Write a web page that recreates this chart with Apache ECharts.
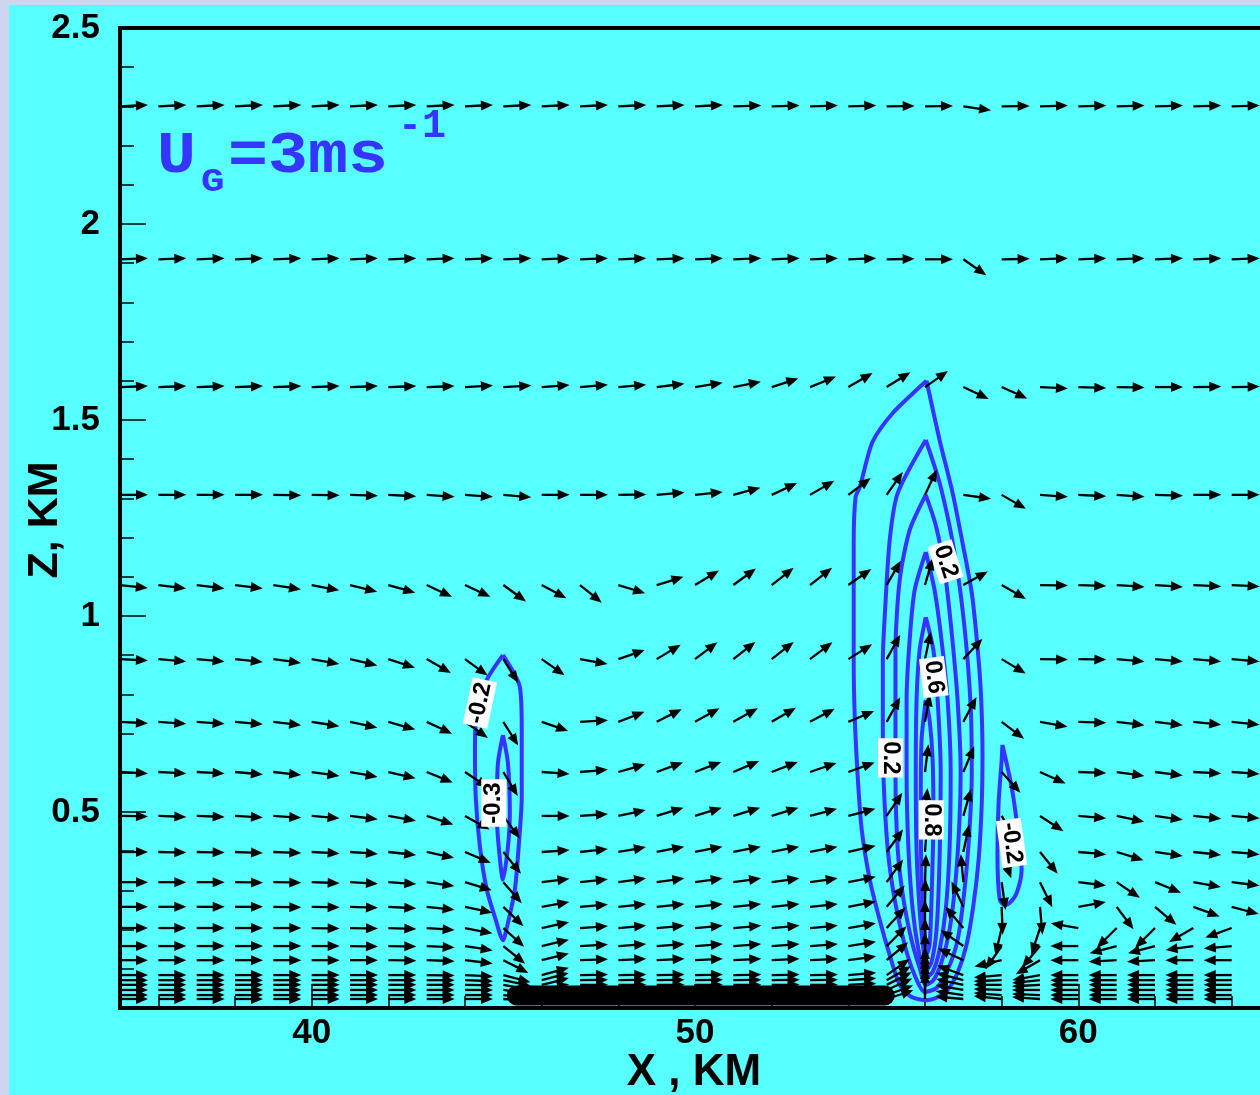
<!DOCTYPE html>
<html>
<head>
<meta charset="utf-8">
<title>Vertical velocity and wind vectors</title>
<script src="https://cdn.jsdelivr.net/npm/echarts@6/dist/echarts.min.js"></script>
<style>
  html, body { margin: 0; padding: 0; background: #cdd6ee; overflow: hidden; }
  #chart { width: 1300px; height: 1095px; }
</style>
</head>
<body>
<div id="chart"></div>
<script>
// ---- vector grid: tail positions (km) ----
const xCols = [35, 36, 37, 38, 39, 40, 41, 42, 43, 44, 45, 46, 47, 48, 49,
               50, 51, 52, 53, 54, 55, 56, 57, 58, 59, 60, 61, 62, 63, 64];
const zRows = [2.300, 1.910, 1.584, 1.309, 1.079, 0.890, 0.730, 0.602, 0.490, 0.398, 0.321,
               0.258, 0.204, 0.158, 0.122, 0.084, 0.071, 0.059, 0.046, 0.033, 0.023];

// ---- wind direction (degrees, counter-clockwise from +x) for each level, west to east ----
const dirZ2300 = [3,3,3,3,3,3,3,3,3,3,3,3,3,3,3,3,2,2,2,2,1,1,-8,1,2,2,2,2,2,2];
const dirZ1910 = [2,2,2,2,2,2,2,2,2,2,2,2,2,2,2,2,2,2,2,2,1,0,-35,1,2,2,2,2,2,2];
const dirZ1584 = [2,2,2,2,2,2,2,2,2,3,3,4,5,5,7,9,11,18,22,30,32,35,-25,-24,-3,-2,-1,0,1,1];
const dirZ1309 = [0,0,0,0,-1,-1,-2,-3,-4,-4,-5,0,0,1,5,6,15,25,30,37,55,65,-8,-30,-4,-3,-4,-2,0,0];
const dirZ1079 = [-6,-7,-7,-7,-9,-11,-14,-16,-25,-25,-36,-28,-39,-17,17,31,36,38,38,35,60,74,29,-30,-1,-2,-4,-4,-3,-3];
const dirZ0890 = [-3,-5,-5,-6,-8,-10,-13,-18,-30,-36,-58,-35,-10,19,31,37,38,38,37,32,61,78,47,-31,-1,-1,-5,-5,-5,-5];
const dirZ0730 = [-3,-4,-4,-5,-7,-9,-12,-16,-25,-35,-58,-19,3,21,27,29,29,30,28,23,61,80,62,-37,-10,-2,-7,-7,-6,-6];
const dirZ0602 = [-3,-3,-3,-5,-6,-8,-10,-13,-22,-34,-59,-4,5,16,20,21,23,21,19,20,60,83,67,-48,-24,-2,-8,-7,-3,-4];
const dirZ0490 = [-1,-2,-2,-3,-4,-5,-7,-10,-18,-29,-54,0,4,12,17,17,17,17,15,15,56,85,74,-60,-33,-5,-12,-8,-6,-5];
const dirZ0398 = [0,-1,-1,-2,-2,-3,-4,-6,-12,-23,-51,4,6,10,11,11,11,11,11,13,54,86,78,-70,-51,-5,-17,-8,-6,-5];
const dirZ0321 = [0,0,0,-1,-1,-2,-3,-4,-8,-17,-49,7,6,8,8,8,8,8,8,11,54,88,95,-82,-64,-7,-34,-22,-10,-7];
const dirZ0258 = [0,0,0,0,-1,-1,-2,-3,-6,-12,-44,10,5,6,6,6,6,6,6,11,50,89,115,-88,-85,10,-53,-40,-20,-15];
const dirZ0204 = [0,0,0,0,0,-1,-1,-2,-4,-11,-42,12,4,5,5,5,5,5,5,10,48,90,130,-103,-108,170,225,225,210,200];
const dirZ0158 = [0,0,0,0,0,0,-1,-1,-3,-9,-39,13,3,4,4,4,4,4,4,9,45,90,145,235,230,180,195,195,188,185];
const dirZ0122 = [0,0,0,0,0,0,0,-1,-2,-7,-27,14,2,3,3,3,3,3,3,8,40,90,155,193,210,180,183,183,180,180];
const dirZ0084 = [0,0,0,0,0,0,0,0,-1,-3,-15,15,1,1,1,1,1,1,1,5,35,90,160,185,190,180,180,180,180,180];
const dirZ0071 = [0,0,0,0,0,0,0,0,0,-2,-12,15,1,1,1,1,1,1,1,4,30,90,165,182,186,180,180,180,180,180];
const dirZ0059 = [0,0,0,0,0,0,0,0,0,-1,-10,14,0,0,0,0,0,0,0,3,27,90,168,180,183,180,180,180,180,180];
const dirZ0046 = [0,0,0,0,0,0,0,0,0,0,-8,12,0,0,0,0,0,0,0,2,24,90,170,178,180,180,180,180,180,180];
const dirZ0033 = [0,0,0,0,0,0,0,0,0,0,-6,10,0,0,0,0,0,0,0,1,20,90,172,176,178,180,180,180,180,180];
const dirZ0023 = [0,0,0,0,0,0,0,0,0,0,-4,8,0,0,0,0,0,0,0,0,18,90,175,174,176,180,180,180,180,180];

// ---- vertical velocity contours (x km, z km), closed loops ----
const wUpdraft1 = [[56.04,1.600],[55.86,1.584],[55.16,1.518],[54.63,1.444],[54.30,1.329],[54.19,1.304],[54.14,1.186],[54.14,0.888],[54.17,0.735],[54.25,0.582],[54.35,0.454],[54.56,0.327],[54.82,0.224],[55.08,0.135],[55.34,0.059],[55.65,0.028],[56.04,0.020],[56.30,0.026],[56.58,0.045],[56.85,0.090],[57.08,0.160],[57.26,0.260],[57.40,0.380],[57.48,0.520],[57.50,0.650],[57.46,0.800],[57.37,0.920],[57.22,1.059],[56.98,1.186],[56.72,1.314],[56.38,1.449],[56.04,1.600]];
const wUpdraft2 = [[56.02,1.449],[55.29,1.314],[55.08,1.194],[54.95,1.000],[54.90,0.888],[54.90,0.735],[54.92,0.582],[55.03,0.403],[55.21,0.276],[55.47,0.161],[55.73,0.084],[55.99,0.041],[56.30,0.051],[56.59,0.097],[56.85,0.173],[57.03,0.301],[57.16,0.454],[57.22,0.600],[57.20,0.750],[57.10,0.900],[56.95,1.041],[56.80,1.143],[56.64,1.230],[56.38,1.340],[56.02,1.449]];
const wUpdraft3 = [[56.02,1.309],[55.60,1.219],[55.34,1.092],[55.23,0.913],[55.23,0.600],[55.29,0.403],[55.44,0.276],[55.65,0.173],[55.86,0.102],[56.02,0.059],[56.22,0.071],[56.43,0.117],[56.64,0.199],[56.80,0.327],[56.90,0.480],[56.93,0.600],[56.85,0.786],[56.69,0.964],[56.51,1.117],[56.28,1.232],[56.02,1.309]];
const wUpdraft4 = [[56.02,1.163],[55.73,1.066],[55.60,0.939],[55.52,0.786],[55.52,0.600],[55.57,0.403],[55.68,0.250],[55.83,0.148],[56.02,0.077],[56.20,0.092],[56.38,0.148],[56.54,0.250],[56.64,0.403],[56.67,0.600],[56.59,0.786],[56.43,0.939],[56.25,1.066],[56.02,1.163]];
const wUpdraft5 = [[56.02,0.997],[55.86,0.913],[55.78,0.786],[55.76,0.600],[55.78,0.403],[55.86,0.250],[55.96,0.148],[56.04,0.097],[56.17,0.117],[56.30,0.199],[56.38,0.378],[56.41,0.600],[56.33,0.786],[56.22,0.913],[56.02,0.997]];
const wUpdraft6 = [[56.02,0.786],[55.91,0.684],[55.89,0.531],[55.91,0.327],[55.99,0.199],[56.04,0.135],[56.12,0.161],[56.17,0.276],[56.22,0.480],[56.20,0.633],[56.12,0.735],[56.02,0.786]];
const wDownWest1 = [[44.99,0.900],[44.57,0.837],[44.31,0.753],[44.26,0.666],[44.28,0.538],[44.39,0.411],[44.57,0.301],[44.78,0.232],[44.99,0.173],[45.12,0.217],[45.30,0.301],[45.40,0.411],[45.48,0.538],[45.48,0.709],[45.43,0.819],[44.99,0.900]];
const wDownWest2 = [[44.99,0.696],[44.86,0.625],[44.83,0.497],[44.88,0.411],[44.99,0.327],[45.12,0.411],[45.17,0.497],[45.12,0.625],[44.99,0.696]];
const wDownEast1 = [[58.02,0.671],[58.26,0.564],[58.42,0.454],[58.52,0.352],[58.39,0.293],[58.21,0.268],[58.08,0.263],[57.95,0.276],[57.89,0.395],[57.92,0.523],[58.00,0.633],[58.02,0.671]];

// contour labels: value text, anchor on the line (km), and line direction (deg)
const contourLabelText = ['-0.2', '-0.3', '0.2', '0.2', '0.6', '0.8', '-0.2'];
const contourLabelAt = [[44.39,0.778],[44.75,0.523],[56.54,1.138],[55.10,0.638],[56.23,0.844],[56.17,0.480],[58.26,0.421]];
const contourLabelTilt = [78, 90, -72, -90, -83, -90, -82];

// heated land strip on the surface
const landStrip = [[45.35, 0.032], [54.95, 0.032]];

// ---- build series data ----
const dirRows = [dirZ2300, dirZ1910, dirZ1584, dirZ1309, dirZ1079, dirZ0890, dirZ0730, dirZ0602,
                 dirZ0490, dirZ0398, dirZ0321, dirZ0258, dirZ0204, dirZ0158, dirZ0122, dirZ0084,
                 dirZ0071, dirZ0059, dirZ0046, dirZ0033, dirZ0023];
const vectors = [];
zRows.forEach((z, r) => xCols.forEach((x, c) => vectors.push([x, z, dirRows[r][c]])));

const contours = [wUpdraft1, wUpdraft2, wUpdraft3, wUpdraft4, wUpdraft5, wUpdraft6,
                  wDownWest1, wDownWest2, wDownEast1];

// uniform-length vectors, anchored at the tail
const ARROW_LEN = 28, HEAD_LEN = 12, HEAD_HALF = 5;
function arrowItem(params, api) {
  const p = api.coord([api.value(0), api.value(1)]);
  const a = api.value(2) * Math.PI / 180;
  const ux = Math.cos(a), uy = -Math.sin(a);
  const tip = [p[0] + ux * ARROW_LEN, p[1] + uy * ARROW_LEN];
  const bx = tip[0] - ux * HEAD_LEN, by = tip[1] - uy * HEAD_LEN;
  const nx = -uy * HEAD_HALF, ny = ux * HEAD_HALF;
  return {
    type: 'group',
    children: [
      { type: 'line', shape: { x1: p[0], y1: p[1], x2: bx + ux, y2: by + uy },
        style: { stroke: '#000', lineWidth: 2.3 } },
      { type: 'polygon', shape: { points: [tip, [bx + nx, by + ny], [bx - nx, by - ny]] },
        style: { fill: '#000' } }
    ]
  };
}

function labelItem(params, api) {
  const i = params.dataIndex;
  const p = api.coord([api.value(0), api.value(1)]);
  return {
    type: 'text', x: p[0], y: p[1],
    rotation: contourLabelTilt[i] * Math.PI / 180,
    style: {
      text: contourLabelText[i], font: 'bold 24px "Liberation Sans"', fill: '#000',
      align: 'center', verticalAlign: 'middle', backgroundColor: '#fff', padding: [1, 3, 0, 3]
    }
  };
}

const BLUE = '#3535ff';
const tickFont = { fontFamily: '"Liberation Sans", Arial', fontWeight: 'bold', fontSize: 35, color: '#000' };

const series = contours.map(c => ({
  type: 'line', data: c, showSymbol: false, smooth: 0.25, z: 2, silent: true,
  lineStyle: { color: BLUE, width: 4 }
}));
series.push({
  type: 'custom', data: vectors, renderItem: arrowItem, encode: { x: 0, y: 1 }, z: 3, silent: true
});
series.push({
  type: 'line', data: landStrip, showSymbol: false, z: 4, silent: true,
  lineStyle: { color: '#000', width: 20, cap: 'round' }
});
series.push({
  type: 'custom', data: contourLabelAt, renderItem: labelItem, encode: { x: 0, y: 1 }, z: 5, silent: true
});

const chart = echarts.init(document.getElementById('chart'), null, { renderer: 'canvas' });
chart.setOption({
  animation: false,
  backgroundColor: '#57ffff',
  grid: { left: 120, top: 28, width: 1150, height: 980, show: true, borderColor: '#000', borderWidth: 4,
          backgroundColor: 'transparent' },
  xAxis: [
    { type: 'value', min: 35, max: 65, splitNumber: 15, position: 'bottom',
      axisLine: { show: true, lineStyle: { color: '#000', width: 4 } },
      axisTick: { show: true, inside: true, length: 12, lineStyle: { color: '#000', width: 1.5 } },
      axisLabel: { show: false }, splitLine: { show: false } },
    { type: 'value', min: 35, max: 65, splitNumber: 3, position: 'bottom',
      axisLine: { show: false },
      axisTick: { show: true, inside: true, length: 24, lineStyle: { color: '#000', width: 1.5 } },
      axisLabel: Object.assign({ margin: 8, formatter: v => (v % 10 === 0 ? String(v) : '') }, tickFont),
      splitLine: { show: false } }
  ],
  yAxis: {
    type: 'value', min: 0, max: 2.5, interval: 0.5,
    axisLine: { show: true, lineStyle: { color: '#000', width: 4 } },
    axisTick: { show: true, inside: true, length: 26, lineStyle: { color: '#000', width: 1.5 } },
    minorTick: { show: true, splitNumber: 5, length: 14, lineStyle: { color: '#000', width: 1.5 } },
    axisLabel: Object.assign({ margin: 20, formatter: v => (v === 0 ? '' : String(v)) }, tickFont),
    splitLine: { show: false }
  },
  graphic: [
    { type: 'rect', shape: { x: 0, y: 0, width: 9, height: 1095 }, style: { fill: '#cdd6ee' }, silent: true },
    { type: 'rect', shape: { x: 0, y: 0, width: 1300, height: 5 }, style: { fill: '#cdd6ee' }, silent: true },
    { type: 'text', x: 45, y: 520, rotation: Math.PI / 2, silent: true,
      style: { text: 'Z, KM', font: 'bold 43px "Liberation Sans"', fill: '#000', align: 'center', verticalAlign: 'middle' } },
    { type: 'text', x: 694, y: 1073, silent: true,
      style: { text: 'X , KM', font: 'bold 44px "Liberation Sans"', fill: '#000', align: 'center', verticalAlign: 'middle' } },
    { type: 'text', x: 157, y: 157, scaleX: 1.08, silent: true,
      style: { text: 'U', font: 'bold 60px "Liberation Mono"', fill: BLUE, align: 'left', verticalAlign: 'middle' } },
    { type: 'text', x: 201, y: 182, scaleX: 1.15, silent: true,
      style: { text: 'G', font: 'bold 34px "Liberation Mono"', fill: BLUE, align: 'left', verticalAlign: 'middle' } },
    { type: 'text', x: 228, y: 157, scaleX: 1.11, silent: true,
      style: { text: '=3ms', font: 'bold 60px "Liberation Mono"', fill: BLUE, align: 'left', verticalAlign: 'middle' } },
    { type: 'text', x: 398, y: 127, silent: true,
      style: { text: '-1', font: 'bold 40px "Liberation Mono"', fill: BLUE, align: 'left', verticalAlign: 'middle' } }
  ],
  series: series
});
</script>
</body>
</html>
